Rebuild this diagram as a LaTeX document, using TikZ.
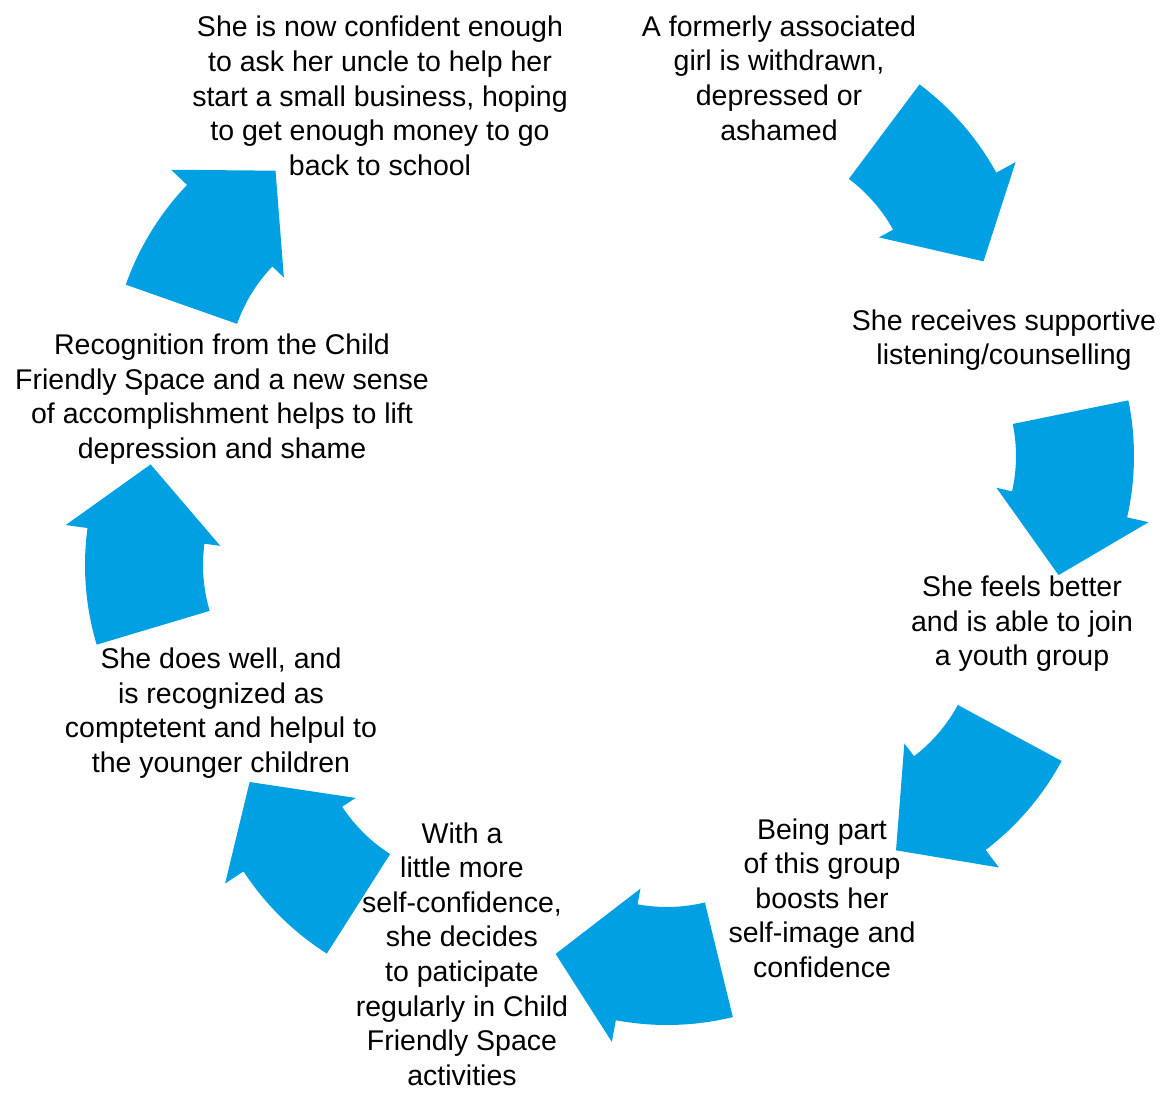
\documentclass[tikz,border=0pt]{standalone}
\usepackage{fontspec}
\setmainfont{Liberation Sans}
\definecolor{cycleblue}{RGB}{0,160,227}

\begin{document}
\begin{tikzpicture}[x=0.5pt, y=0.5pt,
  cyclearrow/.style={fill=cycleblue},
  stage/.style={align=center, inner sep=0pt, font=\fontsize{14.25}{17.3}\selectfont}]
\useasboundingbox (0,0) rectangle (1163,-1093);

% bent arrows: centre of the bend / middle angle
\foreach \cx/\cy/\m in {753/-307/41.05, 856/-456/-0.6, 817/-629/-40.5, 667/-747/-88.45,
    476/-719/-134.6, 363/-565/184.5, 388/-377/148.45}
  \fill[cyclearrow, shift={(\cx,\cy)}] ({\m+12.15}:278)
    arc[start angle=\m+12.15, end angle=\m-12.15, radius=139pt]
    -- ({\m-12.15}:300) -- ({\m-29.85}:235) -- ({\m-12.15}:144) -- ({\m-12.15}:160)
    arc[start angle=\m-12.15, end angle=\m+12.15, radius=80pt] -- cycle;

\node[stage] (girl) at (779,-78) {A formerly associated\\girl is withdrawn,\\depressed or\\ashamed};
\node[stage] (counsel) at (1004,-340) {She receives supportive\\listening/counselling};
\node[stage] (youth) at (1022,-624) {She feels better\\and is able to join\\a youth group};
\node[stage] (boost) at (822,-898) {Being part\\of this group\\boosts her\\self-image and\\confidence};
\node[stage] (join) at (462,-954) {With a\\little more\\self-confidence,\\she decides\\to paticipate\\regularly in Child\\Friendly Space\\activities};
\node[stage] (helpful) at (221,-713) {She does well, and\\is recognized as\\comptetent and helpul to\\the younger children};
\node[stage] (lift) at (222,-399) {Recognition from the Child\\Friendly Space and a new sense\\of accomplishment helps to lift\\depression and shame};
\node[stage] (school) at (380,-96) {She is now confident enough\\to ask her uncle to help her\\start a small business, hoping\\to get enough money to go\\back to school};
\end{tikzpicture}
\end{document}
